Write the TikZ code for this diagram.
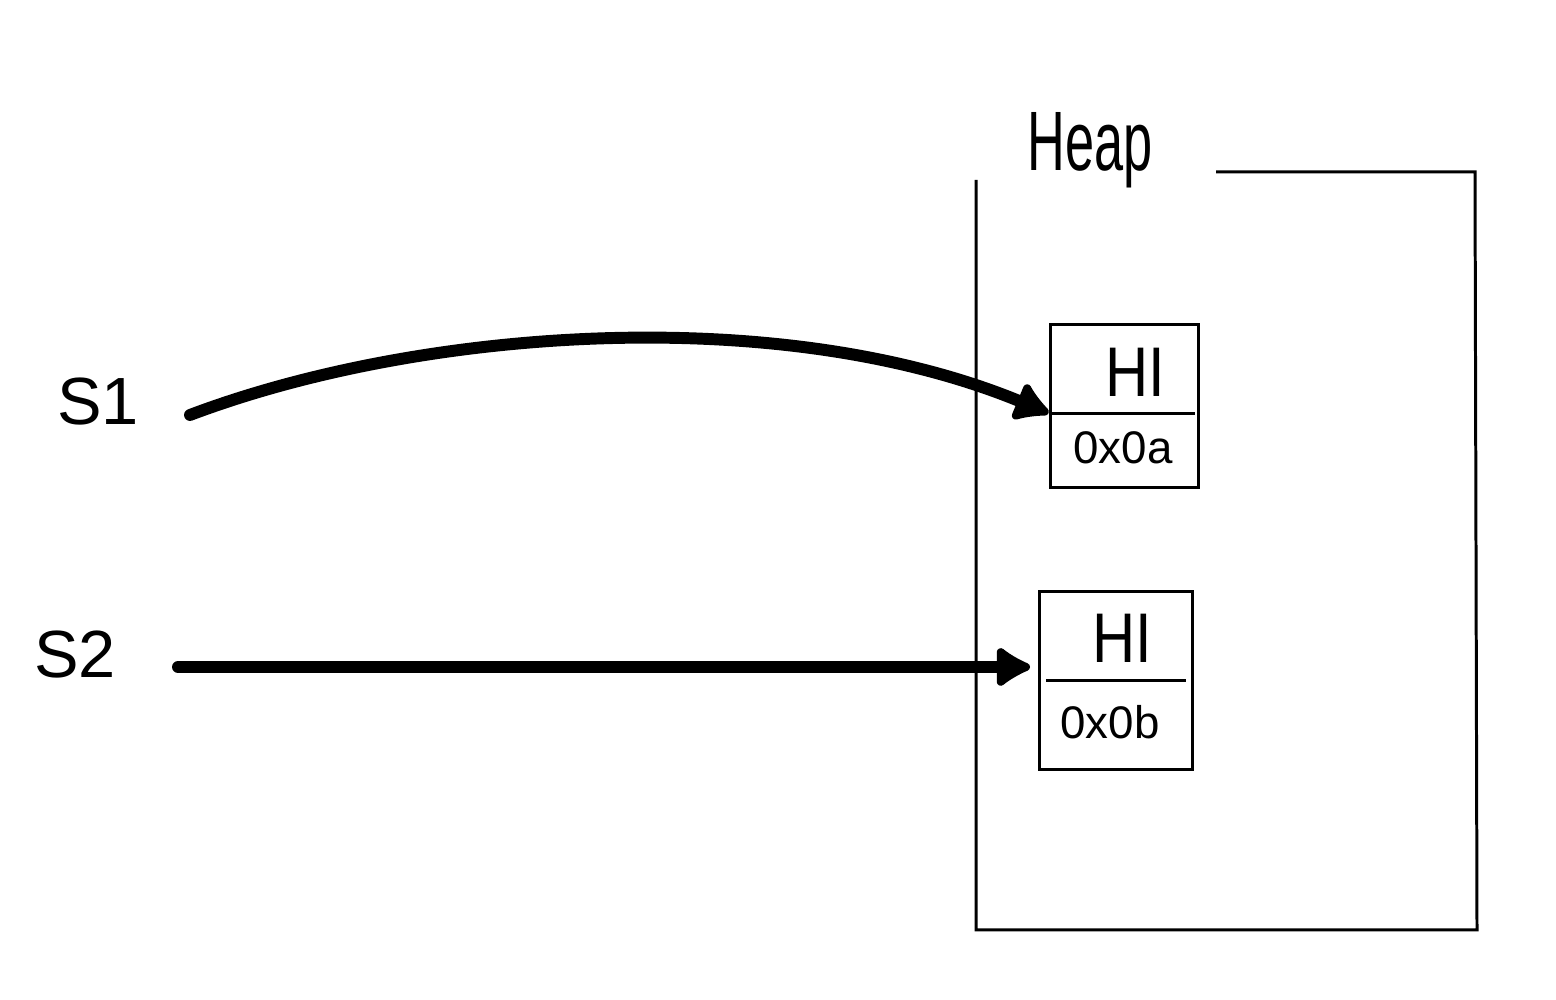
\documentclass[tikz,border=0pt]{standalone}
\usepackage{fontspec}
\usepackage{graphicx}
\setmainfont{Liberation Sans}
\usetikzlibrary{arrows.meta,calc}
\tikzset{
  thin line/.style={line width=0.85pt, line join=miter},
  ptr/.style={line width=3.4pt, line cap=round, -{Latex[length=0.40cm,width=0.48cm,round]}},
  cell/.style={draw, thin line, rectangle, inner sep=0pt},
  lbl/.style={font=\fontsize{20}{22}\selectfont, inner sep=0pt},
  val/.style={font=\fontsize{13}{15}\selectfont, inner sep=0pt},
  var/.style={font=\fontsize{19}{21}\selectfont, inner sep=0pt}
}
\begin{document}
\begin{tikzpicture}
\useasboundingbox (0,0) rectangle (15.56,10);
% heap container (open top)
\draw[thin line] (9.76,8.20) -- (9.76,0.70) -- (14.77,0.70) -- (14.75,8.28) -- (12.16,8.28);
\node[font=\fontsize{24}{26}\selectfont, inner sep=0pt] (heap) at (10.90,8.50) {\scalebox{0.62}[1]{Heap}};
% object 1
\node[cell, minimum width=1.48cm, minimum height=1.63cm] (b1) at (11.24,5.935) {};
\coordinate (d1w) at ($(b1.north west)!0.54!(b1.south west)$);
\coordinate (d1e) at ($(b1.north east)!0.54!(b1.south east)+(-0.05,0)$);
\draw[thin line] (d1w) -- (d1e);
\node[lbl] (hi1) at (11.35,6.28) {\scalebox{0.85}[1]{HI}};
\node[val] (v1) at (11.23,5.52) {0x0a};
% object 2
\node[cell, minimum width=1.53cm, minimum height=1.78cm] (b2) at (11.155,3.19) {};
\coordinate (d2w) at (10.46,3.19);
\coordinate (d2e) at (11.86,3.19);
\draw[thin line] (d2w) -- (d2e);
\node[lbl] (hi2) at (11.22,3.62) {\scalebox{0.85}[1]{HI}};
\node[val] (v2) at (11.10,2.78) {0x0b};
% variables
\node[var] (s1) at (0.98,5.98) {S1};
\node[var] (s2) at (0.75,3.45) {S2};
\coordinate (a1s) at (1.90,5.85);
\coordinate (a2s) at (1.78,3.33);
\coordinate (t2) at (10.30,3.33);
% pointers
\draw[ptr] (a1s) .. controls (4.20,6.72) and (7.80,6.98) .. (d1w);
\draw[ptr] (a2s) -- (t2);
\end{tikzpicture}
\end{document}
